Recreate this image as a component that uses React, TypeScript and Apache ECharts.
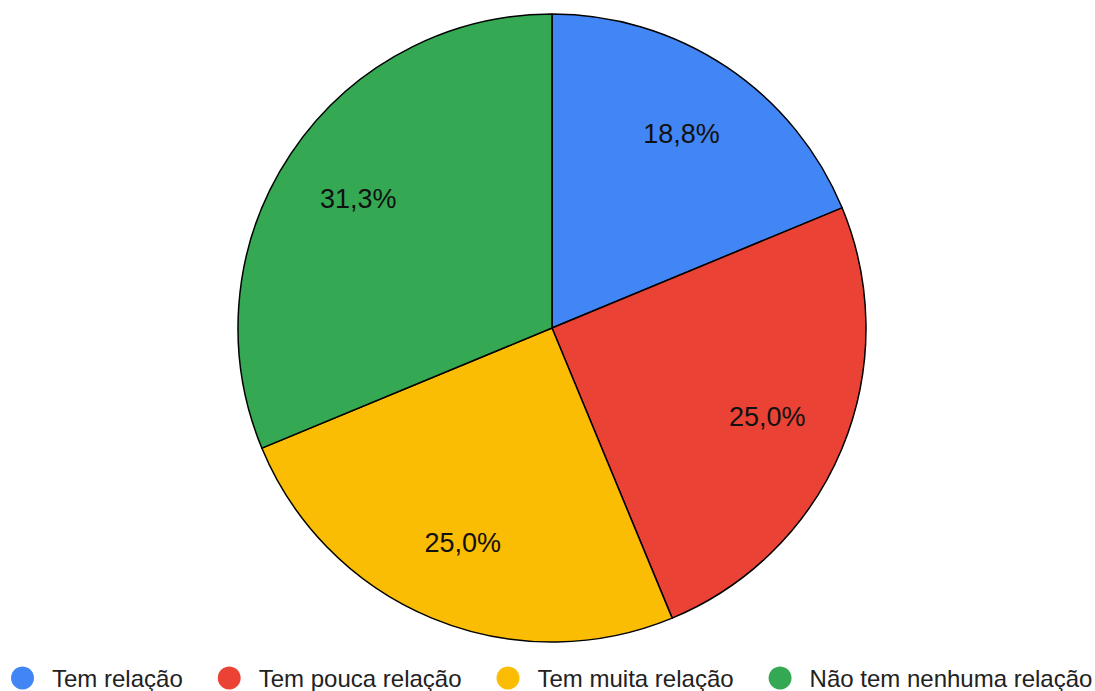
import React, { useEffect, useRef } from "react";
import * as echarts from "echarts";

const categories = ["Tem relação", "Tem pouca relação", "Tem muita relação", "Não tem nenhuma relação"];
const values = [3, 4, 4, 5];
const colors = ["#4285F4", "#EA4335", "#FBBC04", "#34A853"];

export default function App() {
  const ref = useRef<HTMLDivElement>(null);
  useEffect(() => {
    const chart = echarts.init(ref.current!, null, { renderer: "svg" });
    const data = categories.map((name, i) => ({ name, value: values[i], itemStyle: { color: colors[i] } }));
    const total = values.reduce((a, b) => a + b, 0);
    chart.setOption({
      animation: false,
      legend: {
        data: categories,
        left: 11,
        top: 666,
        padding: 0,
        icon: "circle",
        itemWidth: 23,
        itemHeight: 23,
        itemGap: 35,
        itemStyle: { borderWidth: 0 },
        textStyle: { fontFamily: "Liberation Sans, Arial", fontSize: 24, color: "#222", padding: [0, 0, 0, 13] },
      },
      series: [
        {
          type: "pie",
          center: [552, 328],
          radius: [0, 314],
          startAngle: 90,
          clockwise: true,
          label: { show: false },
          labelLine: { show: false },
          itemStyle: { borderColor: "#000", borderWidth: 1.5 },
          data,
          silent: true,
        },
        {
          type: "pie",
          center: [552, 328],
          radius: [146, 314],
          startAngle: 90,
          clockwise: true,
          silent: true,
          legendHoverLink: false,
          itemStyle: { color: "transparent", borderWidth: 0 },
          label: {
            show: true,
            position: "inside",
            fontFamily: "Liberation Sans, Arial",
            fontSize: 27,
            color: "#111",
            formatter: (p: any) => ((p.value / total) * 100).toFixed(1).replace(".", ",") + "%",
          },
          labelLine: { show: false },
          data: categories.map((name, i) => ({ name: name + " ", value: values[i] })),
        },
      ],
    });
    return () => chart.dispose();
  }, []);
  return <div ref={ref} style={{ position: "fixed", left: 0, top: 0, width: 1095, height: 691, background: "#fff" }} />;
}
